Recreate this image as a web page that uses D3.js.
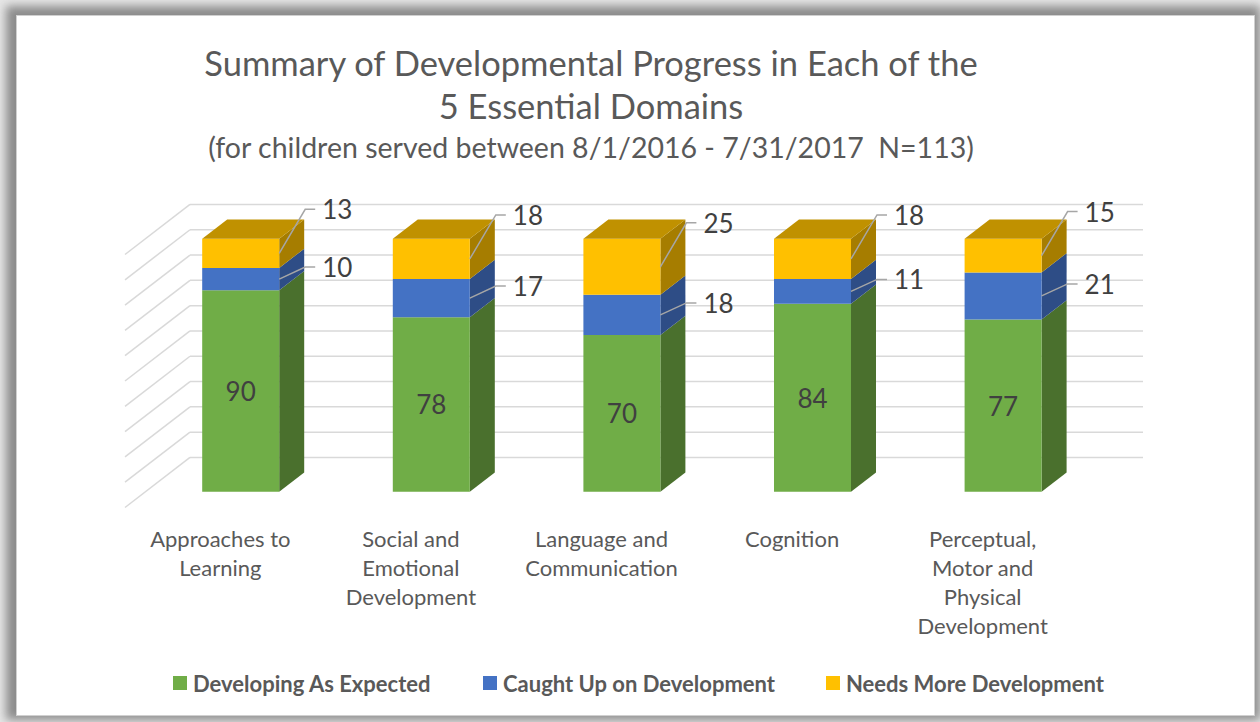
<!DOCTYPE html>
<html>
<head>
<meta charset="utf-8">
<script src="https://cdn.jsdelivr.net/npm/d3@7"></script>
<style>
  body { margin: 0; background: #fff; }
  text { font-family: Lato, "Noto Sans", sans-serif; white-space: pre; }
</style>
</head>
<body>
<div id="chart"></div>
<script>
// categories and counts per domain (N = 113 each)
var categories = ["Approaches to Learning", "Social and Emotional Development",
  "Language and Communication", "Cognition", "Perceptual, Motor and Physical Development"];
var categoryLines = [
  ["Approaches to", "Learning"],
  ["Social and", "Emotional", "Development"],
  ["Language and", "Communication"],
  ["Cognition"],
  ["Perceptual,", "Motor and", "Physical", "Development"]
];
var developing = [90, 78, 70, 84, 77];
var caughtUp = [10, 17, 18, 11, 21];
var needsMore = [13, 18, 25, 18, 15];
var seriesNames = ["Developing As Expected", "Caught Up on Development", "Needs More Development"];

var W = 1260, H = 722;

var svg = d3.select("#chart")
  .append("svg")
    .attr("width", W)
    .attr("height", H);

// frame with soft shadow
var defs = svg.append("defs");
var blur = defs.append("filter").attr("id", "shadow")
  .attr("x", "-5%").attr("y", "-5%").attr("width", "110%").attr("height", "110%");
blur.append("feGaussianBlur").attr("stdDeviation", 5);

svg.append("rect").attr("x", 0).attr("y", 0).attr("width", W).attr("height", H).attr("fill", "#e6e6e6");
svg.append("rect")
  .attr("x", 6).attr("y", 6).attr("width", W - 6).attr("height", H - 8)
  .attr("fill", "#8c8c8c")
  .attr("filter", "url(#shadow)");
svg.append("rect")
  .attr("x", 16.5).attr("y", 15.5).attr("width", 1238).attr("height", 700)
  .attr("fill", "#fff")
  .attr("stroke", "#d0d0d0");

// 3d layout: depth offsets along the receding axis
var slope = 0.77;
var wallDepth = 65, barFront = 20.4, barBack = 45.4;
function proj(x, y, d) { return [x + d, y - d * slope]; }

var x = d3.scaleBand()
  .domain(categories)
  .range([125, 1078])
  .paddingInner(0.596)
  .paddingOuter(0.298);

var y = d3.scaleLinear()
  .domain([0, 1])
  .range([507.5, 254.5]);

var rows = categories.map(function(c, i) {
  return { cat: c, dev: developing[i], cau: caughtUp[i], need: needsMore[i] };
});
var stack = d3.stack().keys(["dev", "cau", "need"]).offset(d3.stackOffsetExpand);
var layers = stack(rows);

var fronts = ["#70AD47", "#4472C4", "#FFC000"];
var sides = ["#4A702D", "#2E4D86", "#A67D00"];
var tops = ["#5B8E3A", "#3A61A6", "#C09100"];

// gridlines on back wall and left wall
var grid = svg.append("g").attr("stroke", "#d9d9d9").attr("stroke-width", 1.5).attr("fill", "none");
y.ticks(10).forEach(function(t) {
  var a = proj(125, y(t), wallDepth), b = proj(1078, y(t), wallDepth);
  grid.append("line").attr("x1", a[0]).attr("y1", a[1]).attr("x2", b[0]).attr("y2", b[1]);
  var c = proj(125, y(t), 0);
  grid.append("line").attr("x1", c[0]).attr("y1", c[1]).attr("x2", a[0]).attr("y2", a[1]);
});

function poly(pts) { return "M" + pts.map(function(p) { return p.join(","); }).join("L") + "Z"; }

var bars = svg.append("g");
layers.forEach(function(layer, si) {
  layer.forEach(function(d, i) {
    var x0 = x(d.data.cat), x1 = x0 + x.bandwidth();
    var yb = y(d[0]), yt = y(d[1]);
    // side
    bars.append("path")
      .attr("d", poly([proj(x1, yb, barFront), proj(x1, yb, barBack), proj(x1, yt, barBack), proj(x1, yt, barFront)]))
      .attr("fill", sides[si]);
    // front
    bars.append("path")
      .attr("d", poly([proj(x0, yb, barFront), proj(x1, yb, barFront), proj(x1, yt, barFront), proj(x0, yt, barFront)]))
      .attr("fill", fronts[si]);
    // top of the stack
    if (si === layers.length - 1) {
      bars.append("path")
        .attr("d", poly([proj(x0, yt, barFront), proj(x1, yt, barFront), proj(x1, yt, barBack), proj(x0, yt, barBack)]))
        .attr("fill", tops[si]);
    }
  });
});

// data labels
var labels = svg.append("g").attr("fill", "#404040").style("font-size", "26px");
var values = [developing, caughtUp, needsMore];
var labelLift = [0, 12, 44];
layers.forEach(function(layer, si) {
  layer.forEach(function(d, i) {
    var x0 = x(d.data.cat), x1 = x0 + x.bandwidth();
    var mid = y((d[0] + d[1]) / 2);
    if (si === 0) {
      var p = proj((x0 + x1) / 2, mid, barFront);
      labels.append("text")
        .attr("x", p[0]).attr("y", p[1])
        .attr("text-anchor", "middle")
        .attr("dominant-baseline", "central")
        .text(values[si][i]);
    } else {
      var s = proj(x1, mid, barFront);
      var ly = s[1] - labelLift[si];
      labels.append("path")
        .attr("d", "M" + s[0] + "," + s[1] + "L" + (s[0] + 26) + "," + ly + "L" + (s[0] + 36) + "," + ly)
        .attr("fill", "none")
        .attr("stroke", "#a6a6a6")
        .attr("stroke-width", 1.5);
      labels.append("text")
        .attr("x", s[0] + 43).attr("y", ly)
        .attr("dominant-baseline", "central")
        .text(values[si][i]);
    }
  });
});

// category labels along the front edge
var axis = svg.append("g").attr("fill", "#595959").style("font-size", "22px");
categories.forEach(function(c, i) {
  var cx = x(c) + x.bandwidth() / 2;
  var t = axis.append("text").attr("text-anchor", "middle");
  categoryLines[i].forEach(function(line, j) {
    t.append("tspan").attr("x", cx).attr("y", 538 + j * 29)
      .attr("dominant-baseline", "central").text(line);
  });
});

// title
var title = svg.append("g").attr("fill", "#595959").attr("text-anchor", "middle");
title.append("text").attr("x", 591).attr("y", 62).attr("dominant-baseline", "central")
  .style("font-size", "34.5px").text("Summary of Developmental Progress in Each of the");
title.append("text").attr("x", 591).attr("y", 105).attr("dominant-baseline", "central")
  .style("font-size", "34.5px").text("5 Essential Domains");
title.append("text").attr("x", 591).attr("y", 147).attr("dominant-baseline", "central")
  .style("font-size", "28.5px").text("(for children served between 8/1/2016 - 7/31/2017  N=113)");

// legend
var legendX = [173, 483, 826];
var legend = svg.append("g");
seriesNames.forEach(function(name, i) {
  legend.append("rect")
    .attr("x", legendX[i]).attr("y", 676).attr("width", 14).attr("height", 14)
    .attr("fill", fronts[i]);
  legend.append("text")
    .attr("x", legendX[i] + 20).attr("y", 683)
    .attr("dominant-baseline", "central")
    .attr("fill", "#595959")
    .style("font-size", "22px").style("font-weight", "bold")
    .text(name);
});
</script>
</body>
</html>
